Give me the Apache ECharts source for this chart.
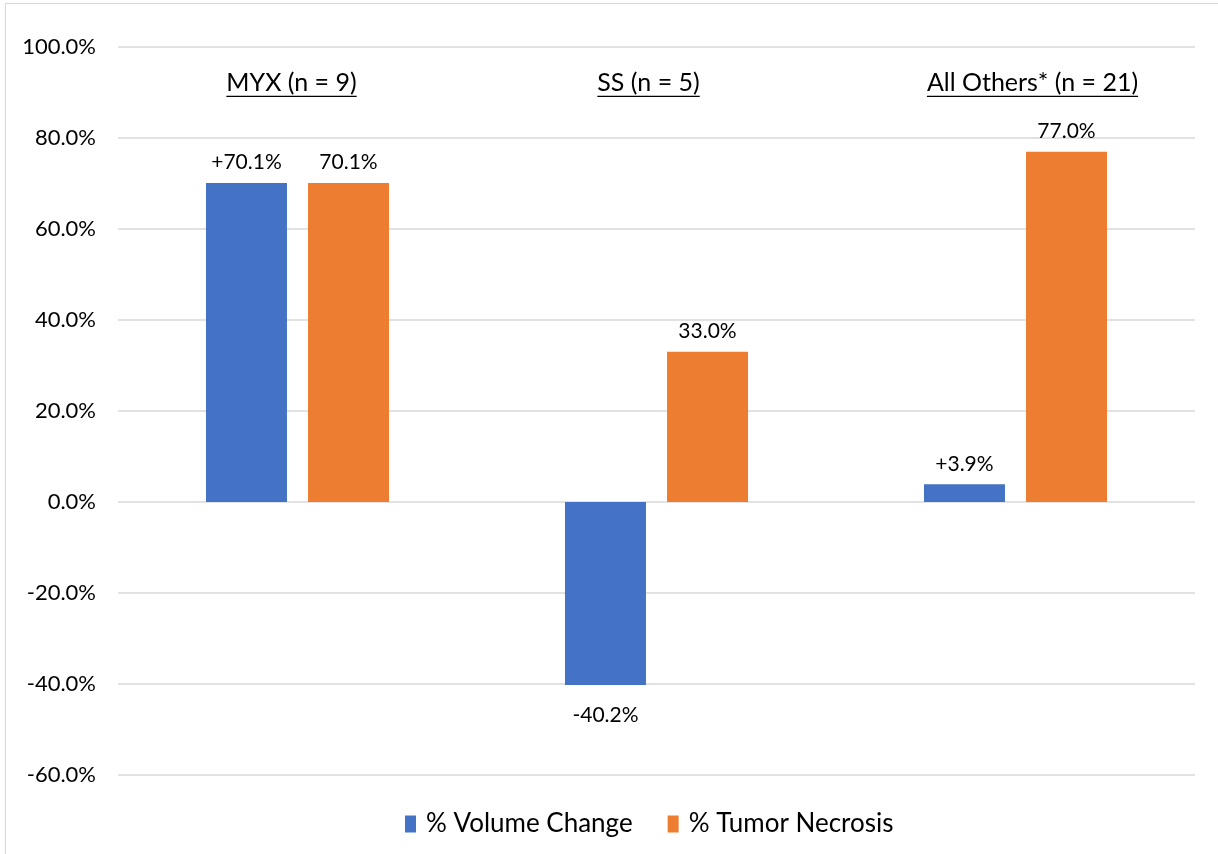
<!DOCTYPE html>
<html lang="en">
<head>
    <meta charset="UTF-8">
    <title>Volume change and tumor necrosis</title>
    <script src="https://cdn.jsdelivr.net/npm/echarts@6/dist/echarts.min.js"></script>
    <style>
        body { margin: 0; background: #fff; overflow: hidden; }
        #frame { position: absolute; left: 5px; top: 3px; width: 1240px; height: 880px; border: 1.5px solid #d9d9d9; }
        #main { position: absolute; left: 0; top: 0; width: 1218px; height: 854px; }
    </style>
</head>
<body>
<div id="frame"></div>
<div id="main"></div>

<script type="text/javascript">
    var groups = ['MYX (n = 9)', 'SS (n = 5)', 'All Others* (n = 21)'];
    var volumeChange = [70.1, -40.2, 3.9];
    var tumorNecrosis = [70.1, 33.0, 77.0];
    var headerLevel = 92;   // where the group titles sit, in axis units

    var FONT = 'Lato, "Open Sans", sans-serif';
    var TITLE_SIZE = 25;
    var titleShift = [-6, -8, 17];  // the titles were placed by hand, not quite centred

    // width of a text so the title can get its underline
    var ctx = document.createElement('canvas').getContext('2d');
    function textWidth(str, size) {
        ctx.font = size + 'px ' + FONT;
        return ctx.measureText(str).width;
    }

    var volumeData = [];
    for (var i = 0; i < volumeChange.length; i++) {
        var neg = volumeChange[i] < 0;
        volumeData.push({
            value: volumeChange[i],
            label: { position: neg ? 'bottom' : 'top', distance: neg ? 20 : 10 }
        });
    }

    var headerData = [];
    for (var i = 0; i < groups.length; i++) {
        headerData.push([i, headerLevel]);
    }

    var myChart = echarts.init(document.getElementById('main'));
    myChart.setOption({
        animation: false,
        textStyle: { fontFamily: FONT, color: '#000' },
        grid: { left: 118, right: 23, top: 47, bottom: 79 },
        legend: {
            data: ['% Volume Change', '% Tumor Necrosis'],
            left: 400,
            top: 806,
            icon: 'rect',
            itemWidth: 11,
            itemHeight: 17,
            itemGap: 35,
            textStyle: { fontSize: 26, color: '#000', fontFamily: FONT, padding: [0, 0, 0, 5] }
        },
        xAxis: {
            type: 'category',
            data: groups,
            axisLine: { show: false },
            axisTick: { show: false },
            axisLabel: { show: false },
            splitLine: { show: false }
        },
        yAxis: {
            type: 'value',
            min: -60,
            max: 100,
            interval: 20,
            axisLine: { show: false },
            axisTick: { show: false },
            axisLabel: {
                formatter: function (v) { return v.toFixed(1) + '%'; },
                fontSize: 22,
                color: '#000',
                margin: 22
            },
            splitLine: { lineStyle: { color: '#d9d9d9', width: 1.5 } }
        },
        series: [
            {
                name: '% Volume Change',
                type: 'bar',
                barWidth: 81,
                barGap: '26%',
                itemStyle: { color: '#4472C4' },
                label: {
                    show: true,
                    fontSize: 21,
                    color: '#000',
                    formatter: function (p) {
                        return (p.value > 0 ? '+' : '') + p.value.toFixed(1) + '%';
                    }
                },
                data: volumeData
            },
            {
                name: '% Tumor Necrosis',
                type: 'bar',
                barWidth: 81,
                itemStyle: { color: '#ED7D31' },
                label: {
                    show: true,
                    position: 'top',
                    fontSize: 21,
                    color: '#000',
                    distance: 10,
                    formatter: function (p) { return p.value.toFixed(1) + '%'; }
                },
                data: tumorNecrosis
            },
            {
                // underlined group titles
                type: 'custom',
                silent: true,
                data: headerData,
                renderItem: function (params, api) {
                    var pt = api.coord([api.value(0), api.value(1)]);
                    var x = pt[0] + titleShift[params.dataIndex];
                    var name = groups[params.dataIndex];
                    var w = textWidth(name, TITLE_SIZE);
                    return {
                        type: 'group',
                        children: [
                            {
                                type: 'text',
                                style: {
                                    text: name,
                                    x: x,
                                    y: pt[1],
                                    align: 'center',
                                    verticalAlign: 'middle',
                                    fontSize: TITLE_SIZE,
                                    fontFamily: FONT,
                                    fill: '#000'
                                }
                            },
                            {
                                type: 'line',
                                shape: { x1: x - w / 2, y1: pt[1] + 13, x2: x + w / 2, y2: pt[1] + 13 },
                                style: { stroke: '#000', lineWidth: 1.3 }
                            }
                        ]
                    };
                }
            }
        ]
    });
</script>
</body>
</html>
